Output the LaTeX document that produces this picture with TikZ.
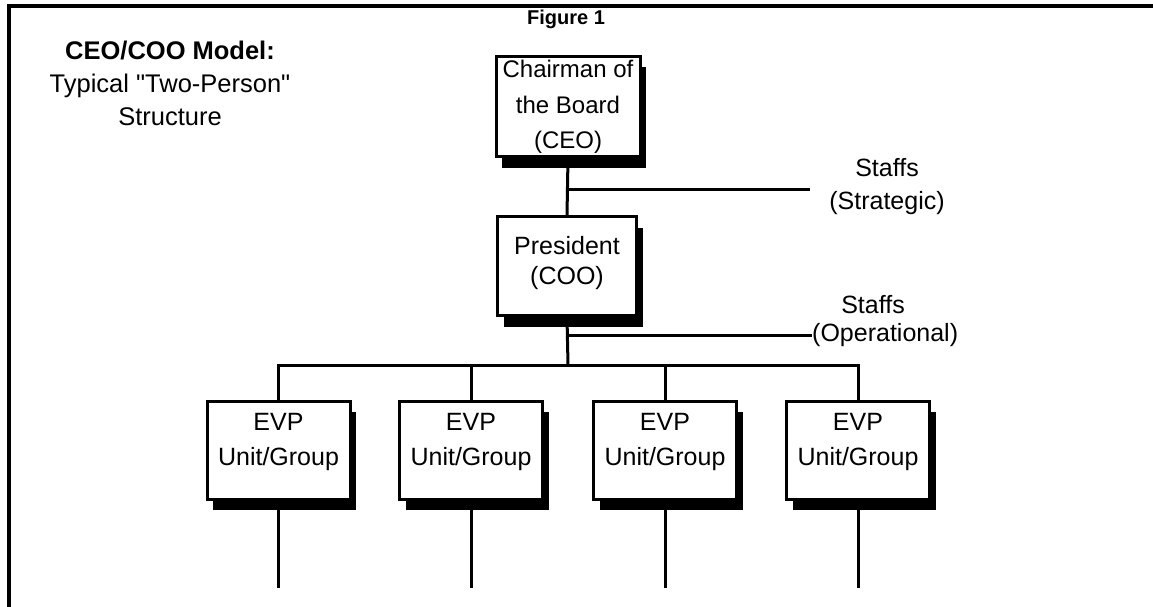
\documentclass[tikz,border=0pt]{standalone}
\usepackage{fontspec}
\setmainfont{Liberation Sans}[Ligatures=TeXOff]
\usetikzlibrary{shadows}
\tikzset{
  orgbox/.style={draw, line width=3pt, fill=white, inner sep=0pt,
    drop shadow={shadow xshift=6pt, shadow yshift=-11pt, fill=black, opacity=1}},
  boxtext/.style={align=center, inner sep=0pt, font=\fontsize{25}{35}\selectfont},
  plaintext/.style={inner sep=0pt, font=\fontsize{25}{35}\selectfont},
  conn/.style={line width=3pt},
  framerule/.style={line width=4pt},
}
\begin{document}
\begin{tikzpicture}[x=1pt, y=-1pt]
\useasboundingbox (0,0) rectangle (1153,607);
% frame (only left and top edges visible)
\coordinate (fbl) at (9,607);
\coordinate (ftl) at (9,6);
\coordinate (ftr) at (1153,6);
\draw[framerule] (fbl) -- (ftl) -- (ftr);

% headings
\node[inner sep=0pt, font=\fontsize{20}{22}\selectfont\bfseries] (fig) at (566,19) {Figure 1};
\node[align=center, inner sep=0pt, font=\fontsize{25.5}{33}\selectfont] (title) at (170,83)
  {\textbf{CEO/COO Model:}\\Typical "Two-Person"\\Structure};

% CEO
\node[orgbox, minimum width=144pt, minimum height=100pt] (ceo) at (568,106.5) {};
\node[boxtext, font=\fontsize{24}{35.5}\selectfont] (ceot) at (568,107) {Chairman of\\the Board\\(CEO)};

% President
\node[orgbox, minimum width=139pt, minimum height=99pt] (pres) at (567,266) {};
\node[boxtext, font=\fontsize{25}{30}\selectfont] (prest) at (567,263) {President\\(COO)};

% staffs labels
\node[plaintext] (st1) at (887,168) {Staffs};
\node[plaintext] (strat) at (887,203) {(Strategic)};
\node[plaintext] (st2) at (873,305) {Staffs};
\node[plaintext, anchor=west] (oper) at (812,335) {(Operational)};

\coordinate (js) at (568,189);
\coordinate (jse) at (810,189);
\coordinate (jo) at (568,335);
\coordinate (bus) at (568,365);

% EVP boxes
\foreach \i/\x in {1/278.5, 2/471, 3/665, 4/858}{
  \node[orgbox, minimum width=143pt, minimum height=98pt] (e\i) at (\x,450) {};
  \node[boxtext] (et\i) at (\x,442) {EVP\\Unit/Group};
  \coordinate (d\i) at (\x,588);
}

% connectors
\draw[conn] (ceo.south) -- (pres.north);
\draw[conn] (js) -- (jse);
\draw[conn] (jo) -- (oper.west);
\draw[conn] (pres.south) -- (bus);
\foreach \i in {1,2,3,4}{
  \draw[conn] (bus) -| (e\i.north);
  \draw[conn] (e\i.south) -- (d\i);
}
\end{tikzpicture}
\end{document}
